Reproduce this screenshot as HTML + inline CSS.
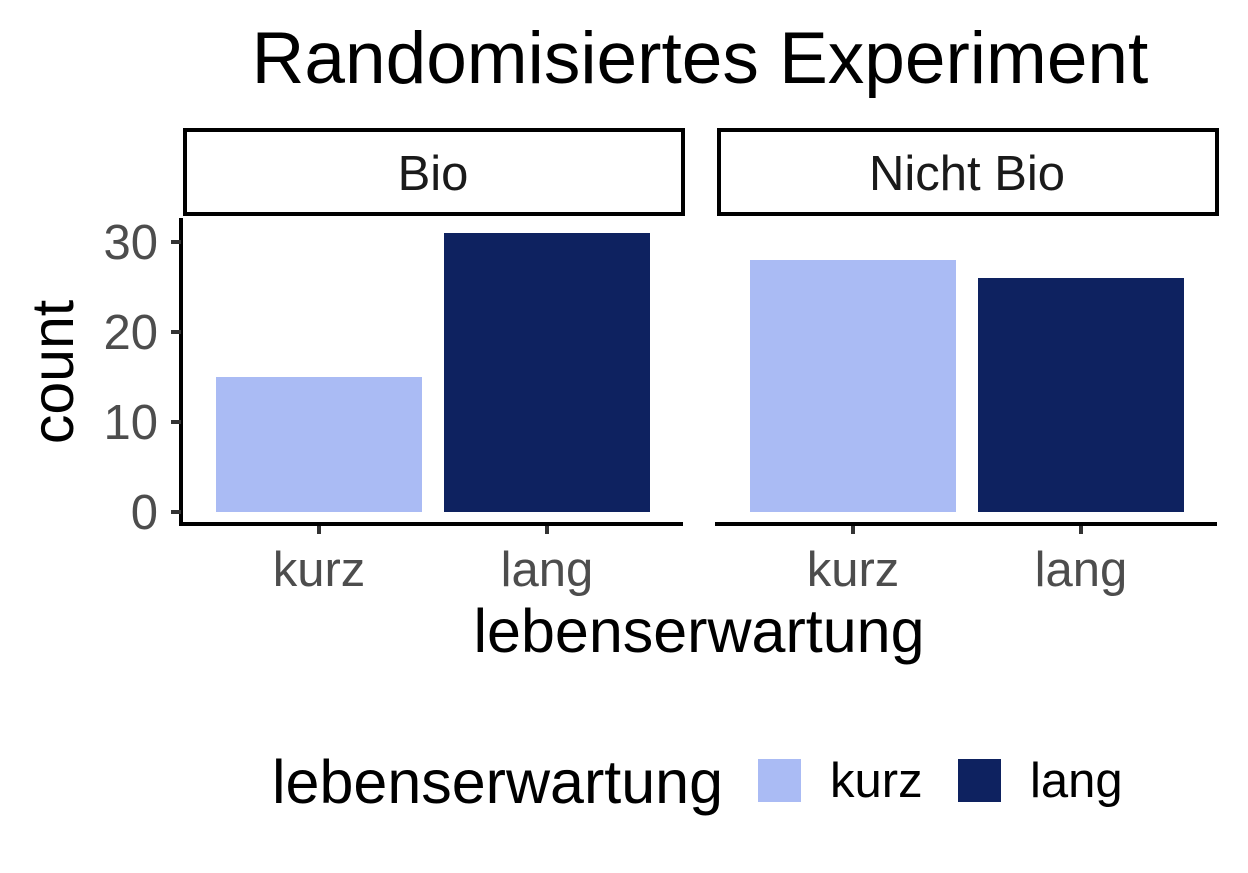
<!DOCTYPE html>
<html><head><meta charset="utf-8">
<style>
html,body{margin:0;padding:0;background:#fff;}
svg{display:block;font-family:"Liberation Sans",sans-serif;}
</style></head>
<body>
<svg id="chart" width="1248" height="873" viewBox="0 0 1248 873" xmlns="http://www.w3.org/2000/svg">
<text x="700" y="83" font-size="73" text-anchor="middle" fill="#000">Randomisiertes Experiment</text>
<g id="plot"></g>
<text transform="translate(73,372) rotate(-90)" font-size="59" text-anchor="middle" fill="#000">count</text>
<text x="699" y="652" font-size="61" text-anchor="middle" fill="#000">lebenserwartung</text>
<g>
<text x="272" y="803" font-size="61" fill="#000">lebenserwartung</text>
<rect x="758" y="759" width="43" height="43" fill="#aabbf4"/>
<text x="830" y="797" font-size="49" fill="#000">kurz</text>
<rect x="958" y="759" width="43" height="43" fill="#0e2260"/>
<text x="1030" y="797" font-size="49" fill="#000">lang</text>
</g>
</svg>
<script>
const panels = ["Bio", "Nicht Bio"];
const categories = ["kurz", "lang"];
const bioValues = [15, 31];
const nichtBioValues = [28, 26];
const yTicks = [0, 10, 20, 30];

const NS = "http://www.w3.org/2000/svg";
const g = document.getElementById("plot");
const colors = {kurz: "#aabbf4", lang: "#0e2260"};
const panelX = [183, 717], panelW = 500;
const y0 = 512, pxPerUnit = 9;
function yScale(v){ return y0 - v * pxPerUnit; }
function xScale(p, i){ return panelX[p] + 33 + 103 + i * 228; }
function mk(tag, attrs){ const e = document.createElementNS(NS, tag); for (const k in attrs) e.setAttribute(k, attrs[k]); g.appendChild(e); return e; }

const allValues = [bioValues, nichtBioValues];
panels.forEach((name, p) => {
  const s = mk("rect", {x: panelX[p] + 2, y: 130, width: panelW - 2, height: 84, fill: "#fff", stroke: "#000", "stroke-width": 4});
  
  
  const st = mk("text", {x: panelX[p] + panelW / 2, y: 190, "font-size": 49, "text-anchor": "middle", fill: "#1a1a1a"});
  st.textContent = name;
  
  
  categories.forEach((c, i) => {
    const v = allValues[p][i];
    const cx = xScale(p, i);
    const b = mk("rect", {x: cx - 103, y: yScale(v), width: 206, height: y0 - yScale(v), fill: colors[c]});
    
    
    const t = mk("line", {x1: cx, x2: cx, y1: 524, y2: 534, stroke: "#333", "stroke-width": 4});
    
    
    const l = mk("text", {x: cx, y: 586, "font-size": 49, "text-anchor": "middle", fill: "#4d4d4d"});
    l.textContent = c;
    
    
  });
  const ax = mk("line", {x1: panelX[p] - 2, x2: panelX[p] + panelW, y1: 524, y2: 524, stroke: "#000", "stroke-width": 4});
  
  
});
const ya = mk("line", {x1: 181, x2: 181, y1: 218, y2: 526, stroke: "#000", "stroke-width": 4});


yTicks.forEach(v => {
  const t = mk("line", {x1: 171, x2: 181, y1: yScale(v), y2: yScale(v), stroke: "#333", "stroke-width": 4});
  
  
  const l = mk("text", {x: 158, y: yScale(v) + 17, "font-size": 49, "text-anchor": "end", fill: "#4d4d4d"});
  l.textContent = v;
  
  
});
</script>
</body></html>
